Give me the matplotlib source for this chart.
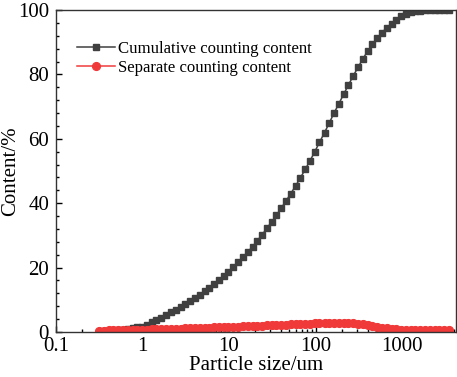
import numpy as np
import matplotlib
matplotlib.use("Agg")
import matplotlib.pyplot as plt
from matplotlib.ticker import MultipleLocator, LogLocator, NullFormatter, FixedLocator

# particle size classes (um)
size_um = [0.314, 0.357, 0.405, 0.460, 0.523, 0.594, 0.675, 0.767, 0.872, 0.991,
           1.13, 1.28, 1.45, 1.65, 1.88, 2.13, 2.42, 2.75, 3.12, 3.55,
           4.03, 4.58, 5.21, 5.92, 6.72, 7.64, 8.68, 9.86, 11.2, 12.7,
           14.5, 16.4, 18.7, 21.2, 24.1, 27.4, 31.1, 35.3, 40.1, 45.6,
           51.8, 58.9, 66.9, 76.0, 86.4, 98.1, 111, 127, 144, 163,
           186, 211, 240, 272, 310, 352, 400, 454, 516, 586,
           666, 756, 859, 976, 1110, 1260, 1430, 1630, 1850, 2100,
           2390, 2710, 3080, 3500]

# cumulative counting content (%)
cumulative = [0.1, 0.2, 0.3, 0.4, 0.5, 0.7, 0.9, 1.1, 1.4, 1.7,
              2.3, 3.0, 3.7, 4.5, 5.3, 6.1, 6.9, 7.8, 8.7, 9.6,
              10.6, 11.6, 12.7, 13.8, 15.0, 16.2, 17.4, 18.7, 20.1, 21.6,
              23.2, 24.8, 26.5, 28.3, 30.2, 32.2, 34.2, 36.3, 38.5, 40.7,
              43.0, 45.4, 47.9, 50.5, 53.2, 56.0, 58.9, 61.9, 64.9, 67.9,
              70.9, 73.8, 76.7, 79.5, 82.2, 84.8, 87.2, 89.4, 91.3, 93.0,
              94.5, 95.8, 97.0, 98.0, 98.8, 99.3, 99.6, 99.8, 99.9, 100.0,
              100.0, 100.0, 100.0, 100.0]

# separate counting content (%)
separate = [0.4, 0.4, 0.5, 0.5, 0.5, 0.6, 0.6, 0.6, 0.7, 0.7,
            0.7, 0.8, 0.8, 0.8, 0.9, 0.9, 1.0, 1.0, 1.1, 1.1,
            1.2, 1.2, 1.3, 1.3, 1.4, 1.5, 1.5, 1.6, 1.7, 1.7,
            1.8, 1.8, 1.9, 2.0, 2.0, 2.1, 2.1, 2.2, 2.2, 2.3,
            2.4, 2.4, 2.5, 2.5, 2.6, 2.7, 2.7, 2.8, 2.8, 2.8,
            2.8, 2.8, 2.8, 2.7, 2.6, 2.4, 2.2, 1.9, 1.6, 1.3,
            1.1, 0.9, 0.8, 0.7, 0.6, 0.6, 0.6, 0.6, 0.6, 0.6,
            0.6, 0.6, 0.6, 0.5]

x_ticks = [0.1, 1, 10, 100, 1000]
x_tick_labels = ["0.1", "1", "10", "100", "1000"]
y_ticks = [0, 20, 40, 60, 80, 100]

plt.rcParams["font.family"] = ["Liberation Serif", "DejaVu Serif"]

fig = plt.figure(figsize=(4.57, 3.77), dpi=100)
ax = fig.add_axes([56 / 457, 1 - 332 / 377, 399.5 / 457, 322 / 377])

ax.plot(size_um, cumulative, color="#404040", lw=1.1, marker="s", ms=4.8,
        label="Cumulative counting content")
ax.plot(size_um, separate, color="#f03a3a", lw=1.1, marker="o", ms=5.6,
        label="Separate counting content")

ax.set_xscale("log")
ax.set_xlim(0.1, 4150)
ax.set_ylim(0, 100)

ax.xaxis.set_major_locator(FixedLocator(x_ticks))
ax.set_xticklabels(x_tick_labels)
ax.xaxis.set_minor_locator(LogLocator(base=10, subs=np.arange(2, 10)))
ax.xaxis.set_minor_formatter(NullFormatter())
ax.set_yticks(y_ticks)
ax.yaxis.set_minor_locator(MultipleLocator(4))

ax.tick_params(which="both", direction="in", top=False, right=False,
               labelsize=15, width=1)
ax.tick_params(which="major", length=4.2)
ax.tick_params(which="minor", length=2.4)
ax.tick_params(axis="y", pad=5)
ax.tick_params(axis="x", pad=3.5)
for s in ax.spines.values():
    s.set_linewidth(1.0)
    s.set_color("#333333")

ax.set_xlabel("Particle size/um", fontsize=15)
ax.xaxis.set_label_coords(0.5, -0.075)
ax.set_ylabel("Content/%", fontsize=15)
ax.yaxis.set_label_coords(-0.09, 0.5)

ax.legend(loc="upper left", bbox_to_anchor=(0.035, 0.925), frameon=False,
          fontsize=12.1, handlelength=2.3, handletextpad=0.15,
          labelspacing=0.2, borderaxespad=0)

fig.savefig("out.png", dpi=100)
